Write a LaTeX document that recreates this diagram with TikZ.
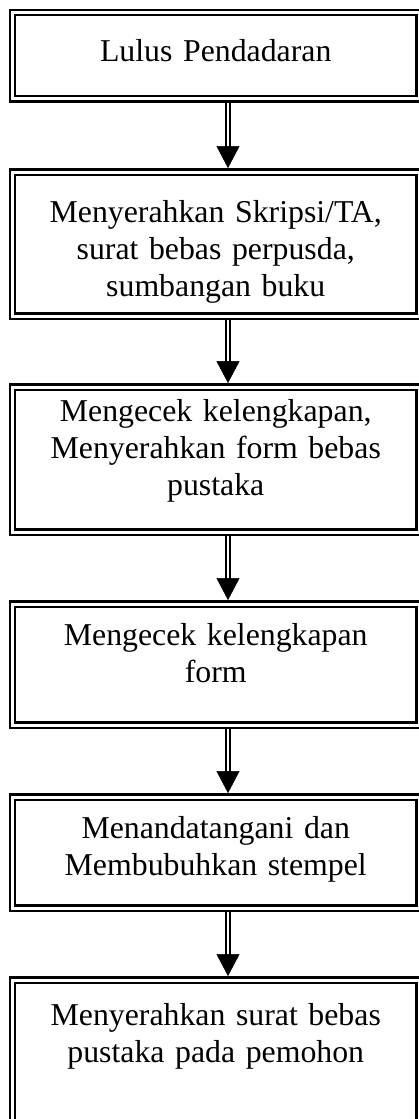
\documentclass[tikz,border=0pt]{standalone}
\usepackage{fontspec}
\setmainfont{Liberation Serif}
\usetikzlibrary{arrows.meta,backgrounds,calc}
\begin{document}
\begin{tikzpicture}[x=1pt,y=1pt,
  box/.style={draw, line width=2.3pt, double, double distance=3pt, inner sep=0pt, outer sep=0pt, minimum width=406.5pt},
  txt/.style={font=\fontsize{31.8pt}{37pt}\selectfont, align=center, text width=400pt, anchor=base, inner sep=0pt},
  shaft/.style={draw, line width=1.6pt, double, double distance=2.6pt},
  head/.style={-{Triangle[width=23pt,length=22pt]}, line width=0.5pt}]
\useasboundingbox (0,0) rectangle (419,-1119);
\coordinate (ax) at (228,0);
% boxes
\node[box, minimum height=86.3pt] (b1) at (215.75,-55.65) {};
\node[box, minimum height=144pt]  (b2) at (215.75,-244) {};
\node[box, minimum height=145pt]  (b3) at (215.75,-459.5) {};
\node[box, minimum height=121pt]  (b4) at (215.75,-664.5) {};
\node[box, minimum height=111pt]  (b5) at (215.75,-852.5) {};
\node[box, minimum height=155pt]  (b6) at (215.75,-1057.5) {};
% texts
\node[txt] (t1) at (215.75,-61) {Lulus Pendadaran};
\node[txt] (t2) at (215.75,-222) {Menyerahkan Skripsi/TA,\\ surat bebas perpusda,\\ sumbangan buku};
\node[txt] (t3) at (215.75,-421) {Mengecek kelengkapan,\\ Menyerahkan form bebas\\ pustaka};
\node[txt] (t4) at (215.75,-645) {Mengecek kelengkapan\\ form};
\node[txt] (t5) at (215.75,-838) {Menandatangani dan\\ Membubuhkan stempel};
\node[txt] (t6) at (215.75,-1025) {Menyerahkan surat bebas\\ pustaka pada pemohon};
% connectors
\begin{scope}[on background layer]
\foreach \a/\b in {b1/b2,b2/b3,b3/b4,b4/b5,b5/b6}{
  \draw[shaft] (\a.south -| ax) -- ($(\b.north -| ax)+(0,20)$);
  \draw[head] ($(\b.north -| ax)+(0,26)$) -- ($(\b.north -| ax)+(0,3.9)$);
}
\end{scope}
\end{tikzpicture}
\end{document}
